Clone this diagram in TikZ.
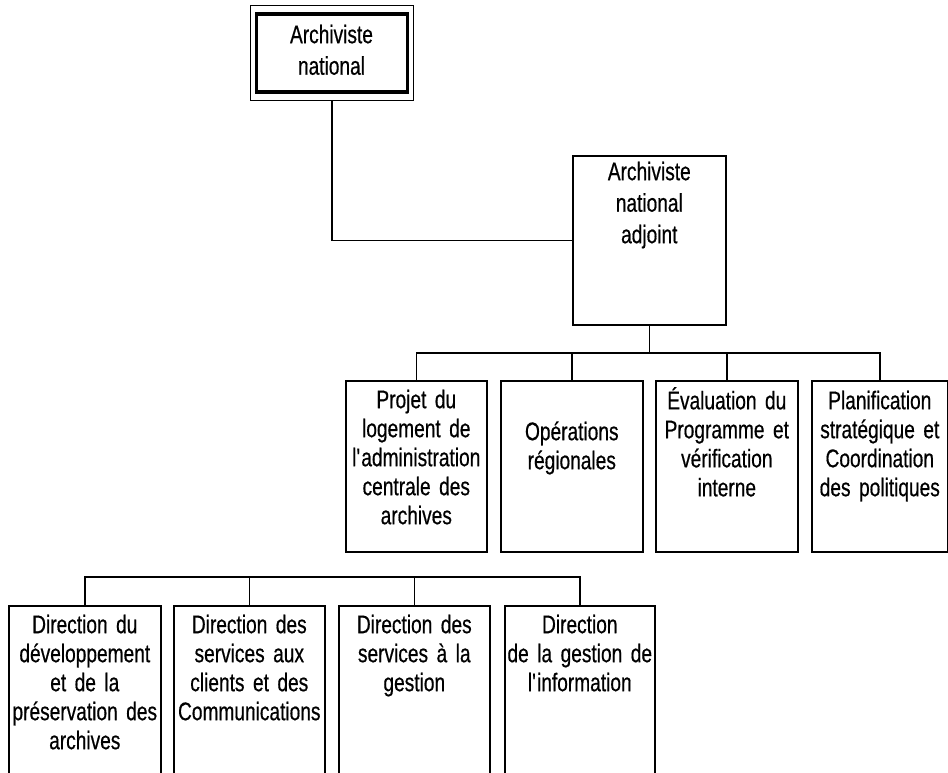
\documentclass[tikz,border=0pt]{standalone}
\usepackage{fontspec}
\setmainfont[FakeStretch=0.75,WordSpace=0.75,FakeBold=0.5]{Liberation Sans}
\newcommand\fstrut{\rule{0pt}{21pt}}
\tikzset{
  box/.style={draw, line width=1.6pt, anchor=north west, inner sep=0pt},
  txt/.style={anchor=north, align=center, inner sep=0pt,
    font=\fontsize{25.5}{29}\selectfont, execute at begin node=\fstrut},
  txttop/.style={txt, font=\fontsize{25.5}{31.5}\selectfont},
  link/.style={line width=1.6pt},
}
\begin{document}
\begin{tikzpicture}[x=1pt,y=-1pt]
\useasboundingbox (0,0) rectangle (948,773);
\clip (0,0) rectangle (948,773);

% top box
\node[draw, line width=1.2pt, inner sep=0pt, minimum width=163pt, minimum height=95pt, anchor=north west] (nat) at (250,5) {};
\node[draw, line width=3.5pt, inner sep=0pt, minimum width=151pt, minimum height=78pt] (natin) at (nat.center) {};
\node[txttop, text width=150pt] (natt) at (331.5,22) {Archiviste\\national};

% adjoint
\node[box, minimum width=153pt, minimum height=169pt] (adj) at (572,155) {};
\node[txttop, text width=150pt] (adjt) at ([yshift=-4pt]adj.north) {Archiviste\\national\\adjoint};

\draw[link] (nat.south) |- (adj.west);

% row 2
\coordinate (r2) at (648,353);
\node[box, minimum width=141pt, minimum height=171pt] (b1) at (345,380) {};
\node[box, minimum width=142pt, minimum height=171pt] (b2) at (500,380) {};
\node[box, minimum width=142pt, minimum height=171pt] (b3) at (655,380) {};
\node[box, minimum width=136pt, minimum height=171pt] (b4) at (811,380) {};
\node[txt, text width=139pt] (b1t) at ([yshift=-7pt]b1.north) {Projet du\\logement de\\l\textquotesingle administration\\centrale des\\archives};
\node[txt, text width=140pt] (b2t) at ([yshift=-39pt]b2.north) {Opérations\\régionales};
\node[txt, text width=140pt] (b3t) at ([yshift=-7pt]b3.north) {Évaluation du\\Programme et\\vérification\\interne};
\node[txt, text width=134pt] (b4t) at ([yshift=-8pt]b4.north) {Planification\\stratégique et\\Coordination\\des politiques};

\draw[link] (adj.south) -- (adj.south |- r2);
\draw[link] (b1.north) -- (b1.north |- r2) -- (b4.north |- r2) -- (b4.north);
\draw[link] (b2.north) -- (b2.north |- r2);
\draw[link] (b3.north) -- (b3.north |- r2);

% row 3
\coordinate (r3) at (300,577);
\node[box, minimum width=152pt, minimum height=200pt] (d1) at (8,605) {};
\node[box, minimum width=151pt, minimum height=200pt] (d2) at (173,605) {};
\node[box, minimum width=151pt, minimum height=200pt] (d3) at (338,605) {};
\node[box, minimum width=150pt, minimum height=200pt] (d4) at (504,605) {};
\node[txt, text width=150pt] (d1t) at ([yshift=-7pt]d1.north) {Direction du\\développement\\et de la\\préservation des\\archives};
\node[txt, text width=149pt] (d2t) at ([yshift=-7pt]d2.north) {Direction des\\services aux\\clients et des\\Communications};
\node[txt, text width=149pt] (d3t) at ([yshift=-7pt]d3.north) {Direction des\\services à la\\gestion};
\node[txt, text width=148pt] (d4t) at ([yshift=-7pt]d4.north) {Direction\\de la gestion de\\l\textquotesingle information};

\draw[link] (d1.north) -- (d1.north |- r3) -- (d4.north |- r3) -- (d4.north);
\draw[link] (d2.north) -- (d2.north |- r3);
\draw[link] (d3.north) -- (d3.north |- r3);
\end{tikzpicture}
\end{document}
